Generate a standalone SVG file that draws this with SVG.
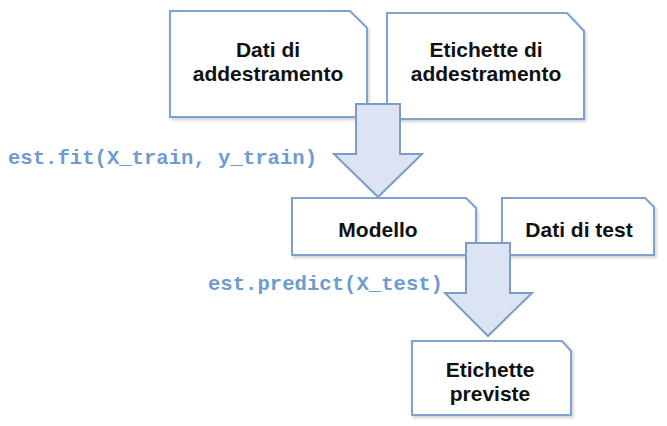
<svg xmlns="http://www.w3.org/2000/svg" width="667" height="426" viewBox="0 0 667 426">
<defs>
<filter id="sh" x="-10%" y="-10%" width="130%" height="130%">
<feDropShadow dx="1.5" dy="2" stdDeviation="1.5" flood-color="#000" flood-opacity="0.18"/>
</filter>
</defs>
<style>
.box{fill:#fff;stroke:#7fa3d0;stroke-width:2;filter:url(#sh)}
.lbl{font-family:"Liberation Sans",Arial,sans-serif;font-weight:bold;font-size:21px;fill:#111;text-anchor:middle}
.code{font-family:"Liberation Mono","DejaVu Sans Mono",monospace;font-weight:bold;font-size:20.5px;fill:#6e9bd1}
.arrow{fill:#dce4f4;stroke:#7a9cc8;stroke-width:2;stroke-linejoin:miter}
</style>
<rect width="667" height="426" fill="#fff"/>
<g id="node-dati-addestramento">
<path class="box" d="M170 11 H350 L367 28 V117 H170 Z"/>
<text class="lbl" x="268" y="57">Dati di<tspan x="268" dy="24">addestramento</tspan></text>
</g>
<g id="node-etichette-addestramento">
<path class="box" d="M387 13 H567 L584 31 V119 H387 Z"/>
<text class="lbl" x="486" y="57">Etichette di<tspan x="486" dy="24">addestramento</tspan></text>
</g>
<g id="node-modello">
<path class="box" d="M292 198 H466 L476 208 V255 H292 Z"/>
<text class="lbl" x="378" y="237">Modello</text>
</g>
<g id="node-dati-test">
<path class="box" d="M502 198 H645 L654 207 V255 H502 Z"/>
<text class="lbl" x="579" y="237">Dati di test</text>
</g>
<g id="node-etichette-previste">
<path class="box" d="M412 341 H562 L571 351 V415 H412 Z"/>
<text class="lbl" x="490" y="377">Etichette<tspan x="490" dy="24">previste</tspan></text>
</g>
<g id="connectors">
<path class="arrow" d="M356 104 H400 V154 H422 L378 197 L334 154 H356 Z"/>
<text class="code" x="8" y="164" textLength="309" lengthAdjust="spacingAndGlyphs">est.fit(X_train, y_train)</text>
<path class="arrow" d="M466 243 H510 V293 H532 L488 336 L445 293 H466 Z"/>
<text class="code" x="208" y="290" textLength="235" lengthAdjust="spacingAndGlyphs">est.predict(X_test)</text>
</g>
</svg>
